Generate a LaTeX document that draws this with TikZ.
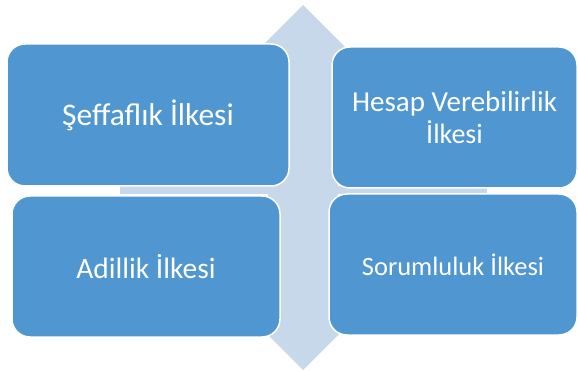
\documentclass[tikz,border=0pt]{standalone}
\usepackage{fontspec}
\setmainfont{Carlito}
\definecolor{boxblue}{RGB}{80,150,209}
\definecolor{arrowblue}{RGB}{198,216,234}
\begin{document}
\begin{tikzpicture}[x=1pt,y=-1pt,
  cell/.style={rectangle, rounded corners=18pt, fill=boxblue, draw=white, line width=1.5pt,
    text=white, align=center, font=\fontsize{28}{32}\selectfont, inner sep=0pt},
  arrowshape/.style={fill=arrowblue, draw=none}]
\useasboundingbox (0,0) rectangle (578,371);
% background arrows
\fill[arrowshape] (303,5) -- (373,75) -- (338,75) -- (338,300) -- (373,300) -- (303,370)
  -- (233,300) -- (268,300) -- (268,75) -- (233,75) -- cycle;
\fill[arrowshape] (120,186) rectangle (487,194);
% boxes
\node[cell, minimum width=282pt, minimum height=142pt] (a) at (148,115) {\fontsize{31.5}{32}\selectfont Şeffaflık İlkesi};
\node[cell, minimum width=245pt, minimum height=141pt] (b) at (454.5,117.5) {\fontsize{29}{32}\selectfont Hesap Verebilirlik\\İlkesi};
\node[cell, minimum width=268pt, minimum height=141pt] (c) at (146,266.5) {\fontsize{29.5}{32}\selectfont Adillik İlkesi};
\node[cell, minimum width=248pt, minimum height=141pt] (d) at (453,264.5) {\fontsize{26.5}{32}\selectfont Sorumluluk İlkesi};
\end{tikzpicture}
\end{document}
